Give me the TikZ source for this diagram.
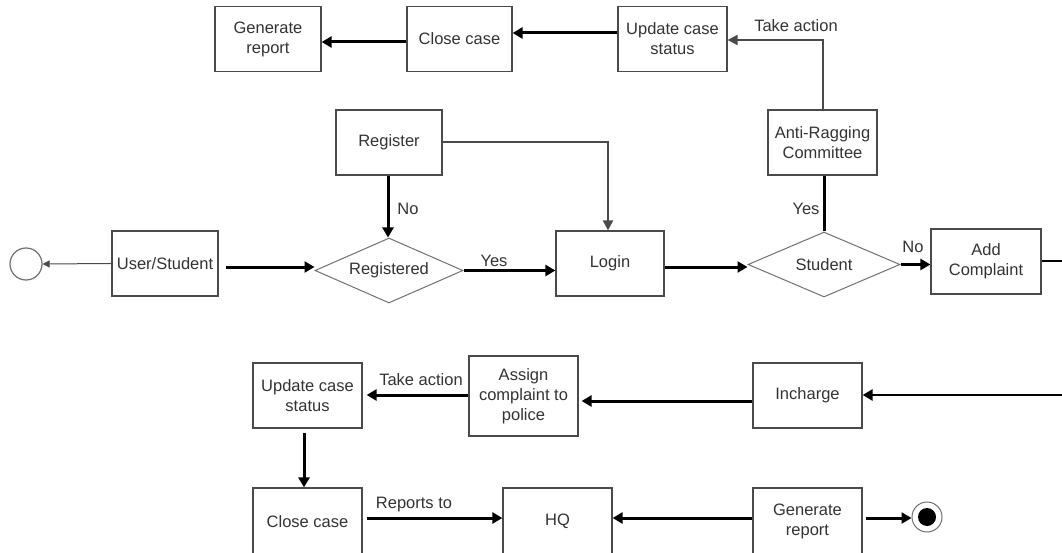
\documentclass[tikz,border=0pt]{standalone}
\usepackage{fontspec}
\setmainfont{Liberation Sans}
\usetikzlibrary{arrows.meta,shapes.geometric,calc}
\definecolor{boxc}{HTML}{4A4A4A}
\definecolor{txt}{HTML}{333333}
\definecolor{dia}{HTML}{707070}
\begin{document}
\begin{tikzpicture}[x=1pt,y=-1pt,
  lbl/.style={text=txt,font=\fontsize{16.5}{20}\selectfont,inner sep=1pt},
  box/.style={draw=boxc,line width=1.2pt,fill=white,minimum width=#1,minimum height=65pt,align=center,inner sep=2pt,text=txt,font=\fontsize{16.5}{20}\selectfont},
  box/.default=109pt,
  decision/.style={diamond,shape aspect=2.3,draw=dia,line width=1pt,fill=white,minimum width=#1,minimum height=65pt,inner sep=0pt,text=txt,font=\fontsize{16.5}{20}\selectfont},
  decision/.default=150pt,
  arr/.style={line width=3pt,-{Triangle[length=10pt,width=11pt]}},
  thinarr/.style={line width=1pt,draw=boxc,-{Triangle[length=7pt,width=7pt]}},
  midarr/.style={line width=2pt,draw=boxc,-{Triangle[length=10pt,width=10pt]}},
  plain/.style={line width=3pt}
]
\useasboundingbox (0,0) rectangle (1062,553);
\clip (0,0) rectangle (1062,553);
\fill[white] (0,0) rectangle (1062,553);

% top row
\node[box=106pt] (genT) at (268,39) {Generate\\report};
\node[box=105pt] (closeT) at (459.5,39) {Close case};
\node[box=109pt] (updT) at (672.5,39) {Update case\\status};
\node[box=109pt] (anti) at (822.5,142.5) {Anti-Ragging\\Committee};
\node[box=106pt] (reg) at (389,142.5) {Register};

% middle row
\node[circle,draw=dia,line width=1.2pt,minimum size=32pt,inner sep=0pt] (start) at (26,264) {};
\node[box=106pt] (user) at (165,263.5) {User/Student};
\node[decision=148pt] (regd) at (389,270.5) {Registered};
\node[box=108pt] (login) at (610,263.5) {Login};
\node[decision=152pt] (stud) at (824,264.5) {Student};
\node[box=110pt] (add) at (986,261.5) {Add\\Complaint};

% lower rows
\node[box=109pt] (inch) at (807.5,395.5) {Incharge};
\node[box=109pt,minimum height=80pt] (assign) at (523.5,396) {Assign\\complaint to\\police};
\node[box=109pt] (updB) at (307.5,395.5) {Update case\\status};
\node[box=109pt,minimum height=67pt] (closeB) at (307.5,521.5) {Close case};
\node[box=109pt,minimum height=67pt] (hq) at (557.5,521.5) {HQ};
\node[box=109pt,minimum height=67pt] (genB) at (807.5,521.5) {Generate\\report};
\node[circle,draw=dia,line width=1pt,minimum size=30pt,inner sep=0pt] (endc) at (927,517) {};
\node[circle,fill=black,minimum size=18pt,inner sep=0pt] (endi) at (endc) {};

% labels
\node[lbl] (takeT) at (796,26) {Take action};
\node[lbl] (noR) at (408,209) {No};
\node[lbl] (yesR) at (494,261) {Yes};
\node[lbl] (yesS) at (806,209) {Yes};
\node[lbl] (noS) at (913,247) {No};
\node[lbl] (takeB) at (421,380) {Take action};
\node[lbl] (repto) at (414,505) {Reports to};

% connectors top
\draw[arr] ($(closeT.west)+(0,3)$) -- ($(genT.east)+(0,3)$);
\draw[arr] ($(updT.west)+(0,-6)$) -- ($(closeT.east)+(0,-6)$);
\coordinate (tk) at (anti.north |- 0,40);
\draw[midarr] (anti.north) -- (tk) -- (updT.east |- tk);
\coordinate (rl) at (login.north -| 608,0);
\draw[midarr] (reg.east) -- (rl |- reg.east) -- (rl);
\draw[arr] (reg.south -| 388,0) -- (regd.north -| 388,0);

% middle row
\draw[thinarr] (user.west) -- (start.east);
\draw[arr] ($(user.east)+(7,3.5)$) -- (regd.west |- 0,267);
\draw[arr] (regd.east) -- (login.west |- regd.east);
\draw[arr] (login.east |- 0,267) -- (stud.west |- 0,267);
\draw[plain] (stud.north) -- (anti.south -| stud.north);
\draw[arr] (stud.east) -- (add.west |- stud.east);
\coordinate (rc1) at (1075,261);
\coordinate (rc2) at (1075,395);
\draw[line width=2.5pt] (add.east |- rc1) -- (rc1) -- (rc2);
\draw[line width=2.5pt,-{Triangle[length=10pt,width=11pt]}] (rc2) -- (inch.east |- rc2);

% lower rows
\draw[arr] (inch.west |- 0,401) -- ($(assign.east |- 0,401)+(3,0)$);
\draw[arr] (assign.west |- 0,395) -- ($(updB.east |- 0,395)+(4,0)$);
\draw[arr] ($(updB.south -| 304,0)+(0,4)$) -- (closeB.north -| 304,0);
\draw[arr] ($(closeB.east |- 0,518)+(4,0)$) -- (hq.west |- 0,518);
\draw[arr] (genB.west |- 0,518) -- (hq.east |- 0,518);
\draw[arr] ($(genB.east |- 0,518)+(3,0)$) -- (endc.west |- 0,518);
\end{tikzpicture}
\end{document}
